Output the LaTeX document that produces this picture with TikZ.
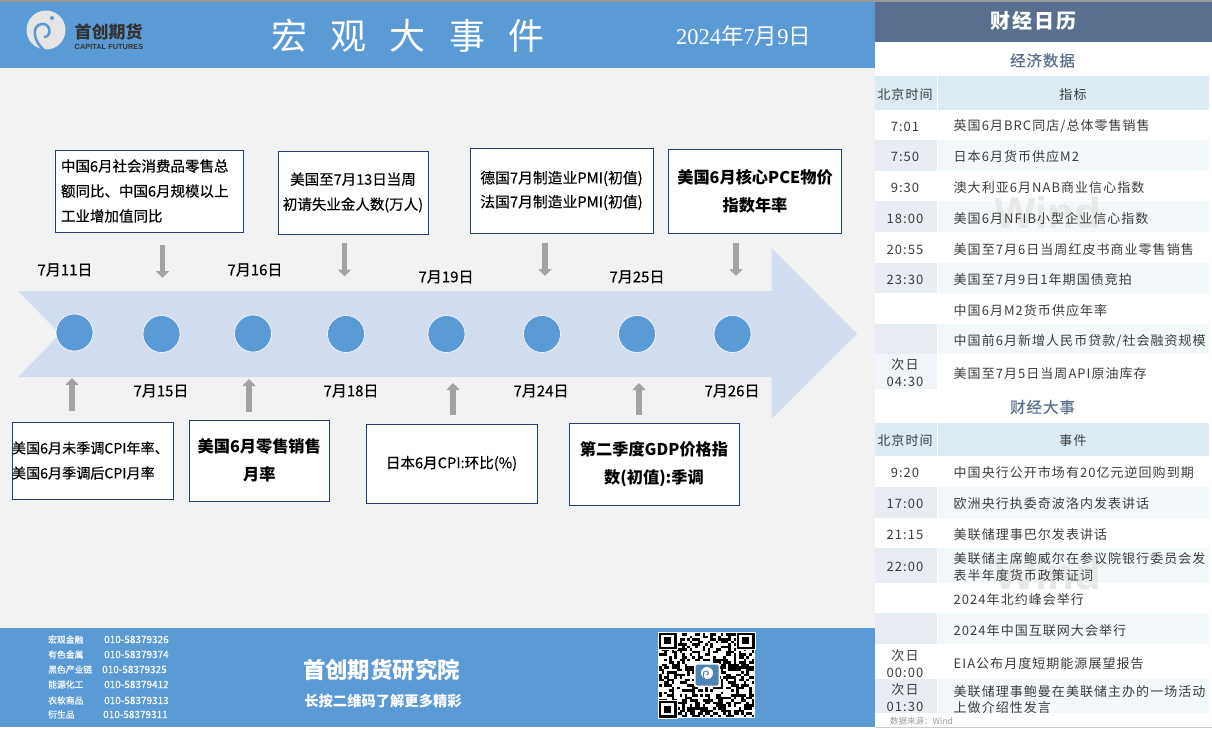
\documentclass[tikz,border=0pt]{standalone}
\usepackage{fontspec}
\setmainfont{Noto Sans CJK SC}
\newfontfamily\titlefont[LetterSpace=64]{Noto Sans CJK SC}
\newfontfamily\headfont[LetterSpace=10]{Noto Sans CJK SC}
\newfontfamily\subheadfont[LetterSpace=6,FakeBold=0.3]{Noto Sans CJK SC}
\newfontfamily\tabfont[LetterSpace=8]{Noto Sans CJK SC}
\newfontfamily\midfont[FakeBold=0.3]{Noto Sans CJK SC}
\newfontfamily\numfont{Liberation Serif}
\newfontfamily\markfont{Liberation Sans}
\usetikzlibrary{arrows.meta}
\usetikzlibrary{positioning}
\definecolor{barblue}{HTML}{5B9BD5}
\definecolor{pagegray}{HTML}{F2F2F2}
\definecolor{bandblue}{HTML}{D2DDEF}
\definecolor{slateblue}{HTML}{5A6F8F}
\definecolor{boxline}{HTML}{24407C}
\definecolor{headrow}{HTML}{DCEAF3}
\definecolor{altrow}{HTML}{F3F8FA}
\definecolor{alttime}{HTML}{E8EDF3}
\definecolor{tabtext}{HTML}{3C3C3C}
\tikzstyle{evbox} = [rectangle, draw=boxline, line width=0.9pt, fill=white, align=center, inner sep=0pt, text=black, font=\midfont\fontsize{14.5}{25}\selectfont]
\tikzstyle{evboxbig} = [evbox, font=\fontsize{16.2}{28}\selectfont\bfseries]
\tikzstyle{dot} = [circle, fill=barblue, draw=white, line width=0.6pt, minimum size=37pt, inner sep=0pt]
\tikzstyle{datelab} = [inner sep=0pt, text=black, font=\midfont\fontsize{15}{16}\selectfont]
\tikzstyle{blockarrow} = [line width=5.5pt, draw=black!36, -{Triangle[length=7pt,width=13pt]}]
\tikzstyle{timelab} = [inner sep=0pt, yshift=-1pt, align=center, text=tabtext, font=\tabfont\fontsize{13}{17}\selectfont]
\tikzstyle{rowlab} = [anchor=west, inner sep=0pt, yshift=-1pt, align=left, text=tabtext, font=\tabfont\fontsize{13}{16.5}\selectfont]
\tikzstyle{wintext} = [inner sep=0pt, text=black!9, font=\markfont\bfseries\fontsize{44}{46}\selectfont]
\tikzstyle{deptlab} = [anchor=west, inner sep=0pt, text=white, font=\midfont\fontsize{8.8}{10}\selectfont]
\tikzstyle{phonelab} = [anchor=west, inner sep=0pt, text=white, font=\midfont\fontsize{10}{12}\selectfont]

\begin{document}
\begin{tikzpicture}[x=1pt,y=-1pt]
\useasboundingbox (0,0) rectangle (1212,729);
\fill[white] (0,0) rectangle (1212,729);
\fill[pagegray] (0,68) rectangle (875,628);
\fill[barblue] (0,2) rectangle (875,68);
\fill[barblue] (0,628) rectangle (875,727);
\fill[black!40] (0,0) rectangle (1212,1.5);
\fill[slateblue] (875,1.5) rectangle (1212,42);
\fill[black!20] (875,726.5) rectangle (1212,727.2);

\fill[black!10] (46,30) circle (19.5pt);
\draw[barblue, line width=2.6pt] (45,51) .. controls (33,42) and (31,25) .. (42,24) .. controls (51,23) and (52,37) .. (44,37);
\fill[barblue] (52,18) circle (2pt);
\node (logoname) at (108.5,32) [inner sep=0pt, text=black!80, font=\fontsize{17}{19}\selectfont\bfseries] {首创期货};
\node (logoen) at (109,46.7) [inner sep=0pt, text=black!80, font=\markfont\fontsize{7.4}{9}\selectfont\bfseries] {CAPITAL FUTURES};
\node (title) at (408,36) [inner sep=0pt, text=white, font=\titlefont\fontsize{36}{38}\selectfont] {宏观大事件};
\node (today) at (743.5,36) [inner sep=0pt, text=white, font=\fontsize{22.5}{24}\selectfont] {{\numfont 2024}年{\numfont 7}月{\numfont 9}日};

\fill[bandblue] (18,291) -- (771.5,291) -- (771.5,248) -- (857,334) -- (771.5,419) -- (771.5,377) -- (18,377) -- (60,334) -- cycle;

\node (d1) at (74.5,332.5) [dot] {};
\node (d2) at (161.5,334) [dot] {};
\node (d3) at (253,333.5) [dot] {};
\node (d4) at (346,334) [dot] {};
\node (d5) at (446.5,334) [dot] {};
\node (d6) at (542,334) [dot] {};
\node (d7) at (637,334) [dot] {};
\node (d8) at (732.5,334) [dot] {};

\node (t1) at (65,270) [datelab] {7月11日};
\node (t2) at (161,391) [datelab] {7月15日};
\node (t3) at (255,270) [datelab] {7月16日};
\node (t4) at (351,391) [datelab] {7月18日};
\node (t5) at (446,277) [datelab] {7月19日};
\node (t6) at (541,391) [datelab] {7月24日};
\node (t7) at (637,277) [datelab] {7月25日};
\node (t8) at (732,391) [datelab] {7月26日};

\node (b1) at (149,191) [evbox, minimum width=188pt, minimum height=82pt, text width=176pt, align=left] {中国6月社会消费品零售总\\额同比、中国6月规模以上\\工业增加值同比};
\node (b2) at (353,192.5) [evbox, minimum width=150pt, minimum height=83pt] {美国至7月13日当周\\初请失业金人数(万人)};
\node (b3) at (561.5,190.5) [evbox, minimum width=183pt, minimum height=85pt, font=\midfont\fontsize{14.8}{24}\selectfont] {德国7月制造业PMI(初值)\\法国7月制造业PMI(初值)};
\node (b4) at (755,191) [evboxbig, minimum width=173pt, minimum height=84pt] {美国6月核心PCE物价\\指数年率};
\node (b5) at (92.5,460.5) [evbox, minimum width=161pt, minimum height=77pt, text width=161pt, align=left, font=\midfont\fontsize{14.1}{25}\selectfont] {美国6月未季调CPI年率、\\美国6月季调后CPI月率};
\node (b6) at (259.25,460.5) [evboxbig, minimum width=140.5pt, minimum height=81pt] {美国6月零售销售\\月率};
\node (b7) at (451.5,463.5) [evbox, minimum width=171pt, minimum height=79pt, font=\midfont\fontsize{14.6}{16}\selectfont] {日本6月CPI:环比(\%)};
\node (b8) at (654,464) [evboxbig, minimum width=170pt, minimum height=82pt] {第二季度GDP价格指\\数(初值):季调};

\coordinate (a1s) at (162.5,245);
\coordinate (a1e) at (162.5,278);
\coordinate (a2s) at (344.5,243);
\coordinate (a2e) at (344.5,276.5);
\coordinate (a3s) at (545,243);
\coordinate (a3e) at (545,276);
\coordinate (a4s) at (736,243);
\coordinate (a4e) at (736,276);
\coordinate (a5s) at (72,411);
\coordinate (a5e) at (72,378);
\coordinate (a6s) at (249,412);
\coordinate (a6e) at (249,379);
\coordinate (a7s) at (453,415);
\coordinate (a7e) at (453,383);
\coordinate (a8s) at (639,415);
\coordinate (a8e) at (639,383);
\draw[blockarrow] (a1s) -- (a1e);
\draw[blockarrow] (a2s) -- (a2e);
\draw[blockarrow] (a3s) -- (a3e);
\draw[blockarrow] (a4s) -- (a4e);
\draw[blockarrow] (a5s) -- (a5e);
\draw[blockarrow] (a6s) -- (a6e);
\draw[blockarrow] (a7s) -- (a7e);
\draw[blockarrow] (a8s) -- (a8e);

\node (f1a) at (48,639.5) [deptlab] {宏观金融};
\node (f1b) at (104,639.5) [phonelab] {010-58379326};
\node (f2a) at (48,654.5) [deptlab] {有色金属};
\node (f2b) at (104,654.5) [phonelab] {010-58379374};
\node (f3a) at (48,669.5) [deptlab] {黑色产业链};
\node (f3b) at (102,669.5) [phonelab] {010-58379325};
\node (f4a) at (48,684.5) [deptlab] {能源化工};
\node (f4b) at (104,684.5) [phonelab] {010-58379412};
\node (f5a) at (48,700.5) [deptlab] {农软商品};
\node (f5b) at (104,700.5) [phonelab] {010-58379313};
\node (f6a) at (48,714.5) [deptlab] {衍生品};
\node (f6b) at (103,714.5) [phonelab] {010-58379311};
\node (inst) at (381.5,670) [inner sep=0pt, text=white, font=\fontsize{22.4}{25}\selectfont\bfseries] {首创期货研究院};
\node (hint) at (383,701.5) [inner sep=0pt, text=white, font=\fontsize{14.3}{16}\selectfont\bfseries] {长按二维码了解更多精彩};

\fill[white] (658,632) rectangle (755,718);
\pgfmathsetseed{4711}
\foreach \i in {0,...,36}
  \foreach \j in {0,...,32} {
    \pgfmathparse{rnd<0.5 ? 1 : 0}
    \ifnum\pgfmathresult=1
      \fill[black] ({659+\i*2.57},{633+\j*2.55}) rectangle ++(2.57,2.55);
    \fi
  }
\foreach \px/\py in {658.5/632.5,736.5/632.5,658.5/701} {
  \fill[white] (\px-1,\py-1) rectangle ++(20,18.5);
  \fill[black] (\px,\py) rectangle ++(18,16.5);
  \fill[white] (\px+2.6,\py+2.4) rectangle ++(12.8,11.7);
  \fill[black] (\px+5.2,\py+4.8) rectangle ++(7.6,6.9);
}
\fill[white, rounded corners=2pt] (694,663) rectangle (720,687);
\fill[barblue!85!black, rounded corners=2pt] (695.5,664.5) rectangle (718.5,685.5);
\fill[white] (707,673) circle (6pt);
\draw[barblue!85!black, line width=1pt] (705,680) .. controls (702,675) and (703,671) .. (706,671) .. controls (709,671) and (709,675) .. (707,675);

\node (calhead) at (1033,21) [inner sep=0pt, text=white, font=\headfont\fontsize{20}{22}\selectfont\bfseries] {财经日历};
\node (econhead) at (1042.5,60.5) [inner sep=0pt, text=slateblue, font=\subheadfont\fontsize{15.5}{18}\selectfont] {经济数据};
\fill[headrow] (875,76) rectangle (937,110);
\fill[headrow] (938,76) rectangle (1209,110);
\fill[alttime] (875,140) rectangle (937,171);
\fill[altrow] (938,140) rectangle (1209,171);
\fill[alttime] (875,201) rectangle (937,232);
\fill[altrow] (938,201) rectangle (1209,232);
\fill[alttime] (875,263) rectangle (937,293);
\fill[altrow] (938,263) rectangle (1209,293);
\fill[alttime] (875,324) rectangle (937,354);
\fill[altrow] (938,324) rectangle (1209,354);
\fill[alttime!60] (875,354) rectangle (937,389);
\node (wm1) at (1048,213) [wintext] {Wind};
\node (eh1) at (905,94) [timelab] {北京时间};
\node (eh2) at (1073,94) [timelab] {指标};
\node (e1t) at (905,125.5) [timelab] {7:01};
\node (e1n) at (953.5,125.5) [rowlab] {英国6月BRC同店/总体零售销售};
\node (e2t) at (905,156) [timelab] {7:50};
\node (e2n) at (953.5,156) [rowlab] {日本6月货币供应M2};
\node (e3t) at (905,187) [timelab] {9:30};
\node (e3n) at (953.5,187) [rowlab] {澳大利亚6月NAB商业信心指数};
\node (e4t) at (905,218) [timelab] {18:00};
\node (e4n) at (953.5,218) [rowlab] {美国6月NFIB小型企业信心指数};
\node (e5t) at (905,248.5) [timelab] {20:55};
\node (e5n) at (953.5,248.5) [rowlab] {美国至7月6日当周红皮书商业零售销售};
\node (e6t) at (905,279) [timelab] {23:30};
\node (e6n) at (953.5,279) [rowlab] {美国至7月9日1年期国债竞拍};
\node (e7n) at (953.5,310) [rowlab] {中国6月M2货币供应年率};
\node (e8n) at (953.5,340.5) [rowlab] {中国前6月新增人民币贷款/社会融资规模};
\node (e9t) at (905,372) [timelab] {次日\\04:30};
\node (e9n) at (953.5,373) [rowlab] {美国至7月5日当周API原油库存};

\node (evthead) at (1042.5,407) [inner sep=0pt, text=slateblue, font=\subheadfont\fontsize{15.5}{18}\selectfont] {财经大事};
\fill[headrow] (875,423) rectangle (937,456);
\fill[headrow] (938,423) rectangle (1209,456);
\fill[alttime] (875,487) rectangle (937,518);
\fill[altrow] (938,487) rectangle (1209,518);
\fill[alttime] (875,548) rectangle (937,583);
\fill[altrow] (938,548) rectangle (1209,583);
\fill[alttime] (875,613) rectangle (937,644);
\fill[altrow] (938,613) rectangle (1209,644);
\fill[alttime] (875,679) rectangle (937,713);
\fill[altrow] (938,679) rectangle (1209,713);
\node (wm2) at (1048,574) [wintext] {Wind};
\node (vh1) at (905,440) [timelab] {北京时间};
\node (vh2) at (1073,440) [timelab] {事件};
\node (v1t) at (905,472) [timelab] {9:20};
\node (v1n) at (953.5,472) [rowlab] {中国央行公开市场有20亿元逆回购到期};
\node (v2t) at (905,503) [timelab] {17:00};
\node (v2n) at (953.5,503) [rowlab] {欧洲央行执委奇波洛内发表讲话};
\node (v3t) at (905,534) [timelab] {21:15};
\node (v3n) at (953.5,534) [rowlab] {美联储理事巴尔发表讲话};
\node (v4t) at (905,566) [timelab] {22:00};
\node (v4n) at (953.5,566) [rowlab] {美联储主席鲍威尔在参议院银行委员会发\\表半年度货币政策证词};
\node (v5n) at (953.5,599) [rowlab] {2024年北约峰会举行};
\node (v6n) at (953.5,630) [rowlab] {2024年中国互联网大会举行};
\node (v7t) at (905,662.5) [timelab] {次日\\00:00};
\node (v7n) at (953.5,663) [rowlab] {EIA公布月度短期能源展望报告};
\node (v8t) at (905,697) [timelab] {次日\\01:30};
\node (v8n) at (953.5,698.5) [rowlab] {美联储理事鲍曼在美联储主办的一场活动\\上做介绍性发言};
\node (source) at (890,721) [anchor=west, inner sep=0pt, text=black!40, font=\fontsize{8.5}{10}\selectfont] {数据来源：Wind};
\end{tikzpicture}
\end{document}
